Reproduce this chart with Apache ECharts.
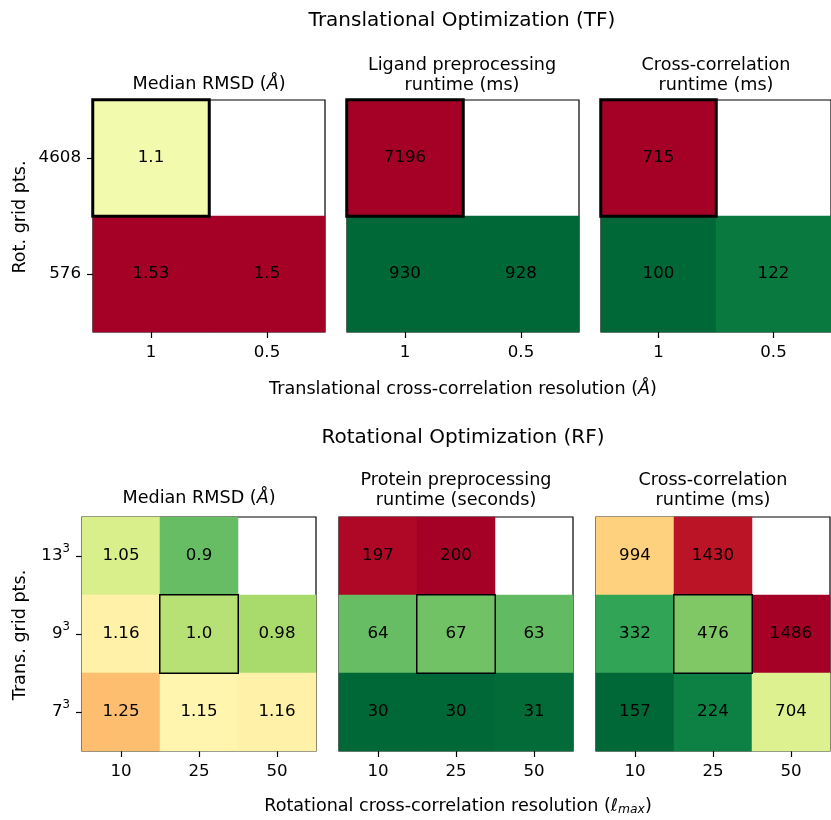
<!DOCTYPE html>
<html>
<head>
<meta charset="utf-8">
<script src="https://cdn.jsdelivr.net/npm/echarts@6/dist/echarts.min.js"></script>
<style>html,body{margin:0;padding:0;background:#fff}#c{width:831px;height:820px}</style>
</head>
<body>
<div id="c"></div>
<script>
// ---- Data ----
const tfRowLabels = ['4608', '576'];
const tfColLabels = ['1', '0.5'];
const tfRmsd   = [[1.1, null], [1.53, 1.5]];
const tfLigand = [[7196, null], [930, 928]];
const tfCross  = [[715, null], [100, 122]];
const tfHighlight = [0, 0]; // [row, col]

const rfRowLabels = ['13', '9', '7']; // shown as cubes
const rfColLabels = ['10', '25', '50'];
const rfRmsd    = [[1.05, 0.9, null], [1.16, 1.0, 0.98], [1.25, 1.15, 1.16]];
const rfProtein = [[197, 200, null], [64, 67, 63], [30, 30, 31]];
const rfCross   = [[994, 1430, null], [332, 476, 1486], [157, 224, 704]];
const rfHighlight = [1, 1];

const rmsdRange = [0.75, 1.5];

// RdYlGn reversed
const cmap = ['#006837','#1a9850','#66bd63','#a6d96a','#d9ef8b','#ffffbf','#fee08b','#fdae61','#f46d43','#d73027','#a50026'];

const FONT = 'DejaVu Sans';
const FS = 16.67;
const FT = 17.6;

const panels = [
  {m: tfRmsd, rows: tfRowLabels, cols: tfColLabels, hl: tfHighlight, hlw: 3, range: rmsdRange, rmsd: true,
   grid: {left: 93, top: 100, width: 232, height: 232}, yLabels: true, sup: false},
  {m: tfLigand, rows: tfRowLabels, cols: tfColLabels, hl: tfHighlight, hlw: 3,
   grid: {left: 347, top: 100, width: 232, height: 232}},
  {m: tfCross, rows: tfRowLabels, cols: tfColLabels, hl: tfHighlight, hlw: 3,
   grid: {left: 601, top: 100, width: 232, height: 232}},
  {m: rfRmsd, rows: rfRowLabels, cols: rfColLabels, hl: rfHighlight, hlw: 1.5, range: rmsdRange, rmsd: true,
   grid: {left: 82, top: 517, width: 234, height: 234}, yLabels: true, sup: true},
  {m: rfProtein, rows: rfRowLabels, cols: rfColLabels, hl: rfHighlight, hlw: 1.5,
   grid: {left: 339, top: 517, width: 234, height: 234}},
  {m: rfCross, rows: rfRowLabels, cols: rfColLabels, hl: rfHighlight, hlw: 1.5,
   grid: {left: 596, top: 517, width: 234, height: 234}}
];

const grids = [], xAxes = [], yAxes = [], series = [], visualMaps = [];
panels.forEach((p, i) => {
  grids.push(Object.assign({show: true, borderColor: '#000', borderWidth: 1.2, backgroundColor: '#fff'}, p.grid));
  xAxes.push({
    type: 'category', gridIndex: i, data: p.cols,
    axisLine: {show: false},
    axisTick: {show: true, alignWithLabel: true, length: 6, lineStyle: {color: '#000', width: 1.2}},
    axisLabel: {margin: 12, fontFamily: FONT, fontSize: FS, color: '#000'},
    splitLine: {show: false}
  });
  yAxes.push({
    type: 'category', gridIndex: i, data: p.rows, inverse: true,
    axisLine: {show: false},
    axisTick: {show: !!p.yLabels, alignWithLabel: true, length: 6, lineStyle: {color: '#000', width: 1.2}},
    axisLabel: {
      show: !!p.yLabels, margin: 12, fontFamily: FONT, fontSize: FS, color: '#000',
      formatter: p.sup ? (v => '{b|' + v + '}{s|3}') : undefined,
      rich: p.sup ? {b: {fontFamily: FONT, fontSize: FS, color: '#000'},
                     s: {fontFamily: FONT, fontSize: 11.7, color: '#000', padding: [0, 0, 14, 0]}} : undefined
    },
    splitLine: {show: false}
  });
  const vals = [];
  const data = [];
  let hlItem = null;
  p.m.forEach((row, r) => row.forEach((v, c) => {
    if (v === null) return;
    vals.push(v);
    const item = {value: [c, r, v]};
    if (r === p.hl[0] && c === p.hl[1]) {
      item.itemStyle = {borderColor: '#000', borderWidth: p.hlw};
      hlItem = item;
    } else data.push(item);
  }));
  if (hlItem) data.push(hlItem);
  const range = p.range || [Math.min(...vals), Math.max(...vals)];
  visualMaps.push({type: 'continuous', show: false, seriesIndex: i, dimension: 2,
    min: range[0], max: range[1], inRange: {color: cmap}});
  series.push({
    type: 'heatmap', xAxisIndex: i, yAxisIndex: i, data: data,
    itemStyle: {borderWidth: 0},
    label: {show: true, fontFamily: FONT, fontSize: FS, color: '#000',
      formatter: prm => {
        const v = prm.value[2];
        return p.rmsd && Number.isInteger(v) ? v.toFixed(1) : String(v);
      }},
    emphasis: {disabled: true}
  });
});

function txt(text, x, y, size, extra) {
  return Object.assign({
    type: 'text', x: x, y: y,
    style: Object.assign({text: text, align: 'center', verticalAlign: 'middle',
      fontFamily: FONT, fontSize: size || FT, fill: '#000'}, (extra && extra.style) || {})
  }, extra && extra.rotation ? {rotation: extra.rotation} : {});
}
const richBase = {
  n: {fontFamily: FONT, fontSize: FT, color: '#000'},
  i: {fontFamily: FONT, fontSize: FT, color: '#000', fontStyle: 'italic'},
  sub: {fontFamily: FONT, fontSize: 12.3, color: '#000', fontStyle: 'italic', padding: [8, 0, 0, 0]}
};
const rmsdTitle = '{n|Median RMSD (}{i|Å}{n|)}';

const graphics = [
  txt('Translational Optimization (TF)', 462, 21, 20),
  txt(rmsdTitle, 209, 84, FT, {style: {rich: richBase}}),
  txt('Ligand preprocessing', 462, 65),
  txt('runtime (ms)', 462, 85),
  txt('Cross-correlation', 716, 65),
  txt('runtime (ms)', 716, 85),
  txt('{n|Translational cross-correlation resolution (}{i|Å}{n|)}', 463, 389, FT, {style: {rich: richBase}}),
  txt('Rot. grid pts.', 20, 217, FT, {rotation: Math.PI / 2}),
  txt('Rotational Optimization (RF)', 463, 438, 20),
  txt(rmsdTitle, 199, 498, FT, {style: {rich: richBase}}),
  txt('Protein preprocessing', 456, 480),
  txt('runtime (seconds)', 456, 500),
  txt('Cross-correlation', 713, 480),
  txt('runtime (ms)', 713, 500),
  txt('{n|Rotational cross-correlation resolution (}{i|ℓ}{sub|max}{n|)}', 458, 806, FT, {style: {rich: richBase}}),
  txt('Trans. grid pts.', 20, 635, FT, {rotation: Math.PI / 2})
];

const chart = echarts.init(document.getElementById('c'), null, {renderer: 'canvas'});
chart.setOption({
  animation: false,
  backgroundColor: '#fff',
  grid: grids, xAxis: xAxes, yAxis: yAxes,
  visualMap: visualMaps, series: series,
  graphic: graphics
});
</script>
</body>
</html>
